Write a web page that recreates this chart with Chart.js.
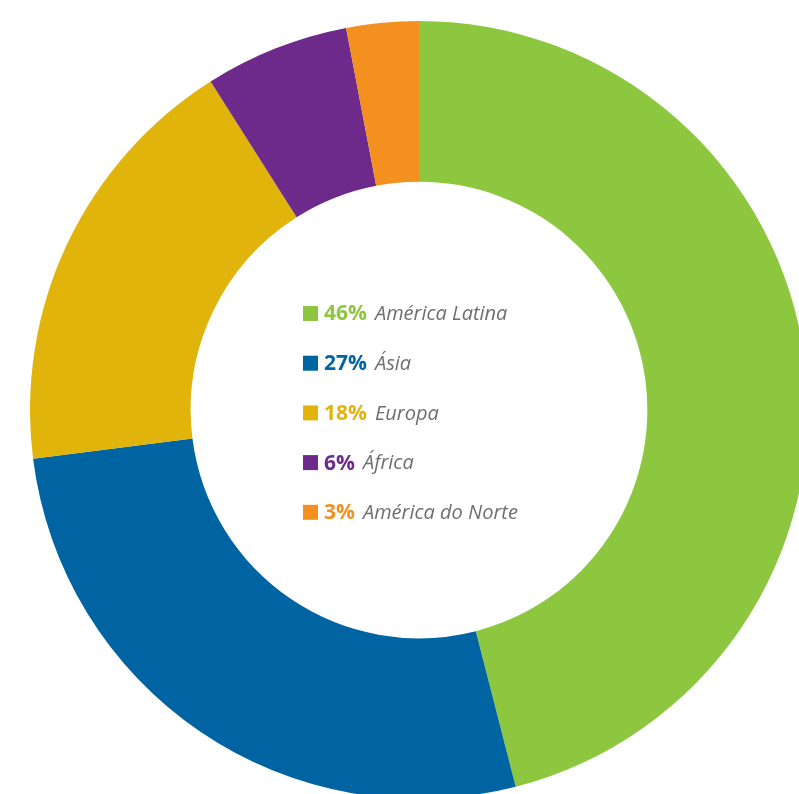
<!DOCTYPE html>
<html>
<head>
<meta charset="utf-8">
<script src="https://cdn.jsdelivr.net/npm/chart.js@4"></script>
<style>
  html, body { margin: 0; padding: 0; background: #fff; overflow: hidden; width: 799px; height: 794px; }
  #wrap { position: absolute; left: 30px; top: 21px; width: 778px; height: 778px; }
</style>
</head>
<body>
<div id="wrap"><canvas id="donut" width="778" height="778"></canvas></div>
<script>
// dados do gráfico
const regioes = ['América Latina', 'Ásia', 'Europa', 'África', 'América do Norte'];
const percentuais = [46, 27, 18, 6, 3];
const cores = ['#8DC63F', '#0064A3', '#E1B40C', '#6D2A8A', '#F3901F'];

// legenda desenhada no centro do anel
const legendaCentro = {
  id: 'legendaCentro',
  afterDraw(chart) {
    const ctx = chart.ctx;
    const x0 = 303 - 30;
    const y0 = 313.5 - 21;
    const passo = 49.7;
    ctx.save();
    ctx.textBaseline = 'middle';
    regioes.forEach((nome, i) => {
      const y = y0 + i * passo;
      ctx.fillStyle = cores[i];
      ctx.fillRect(x0, y - 7.5, 15, 15);
      ctx.font = 'bold 21px "Open Sans"';
      const pct = percentuais[i] + '%';
      ctx.fillText(pct, x0 + 21, y + 1);
      const w = ctx.measureText(pct).width;
      ctx.font = 'italic 20px "Open Sans"';
      ctx.fillStyle = '#6D6E71';
      ctx.fillText(nome, x0 + 21 + w + 8, y + 1);
    });
    ctx.restore();
  }
};

const ctx = document.getElementById('donut').getContext('2d');
new Chart(ctx, {
  type: 'doughnut',
  data: {
    labels: regioes,
    datasets: [{
      data: percentuais,
      backgroundColor: cores,
      borderWidth: 0
    }]
  },
  options: {
    responsive: false,
    animation: false,
    cutout: '58.7%',
    plugins: {
      legend: { display: false },
      tooltip: { enabled: false }
    }
  },
  plugins: [legendaCentro]
});
</script>
</body>
</html>
